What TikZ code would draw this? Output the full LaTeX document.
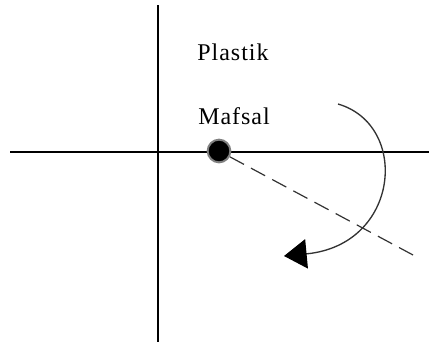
\documentclass[tikz,border=0pt]{standalone}
\usepackage{fontspec}
\setmainfont{Liberation Serif}[LetterSpace=4]
\usetikzlibrary{arrows.meta}
\begin{document}
\begin{tikzpicture}[x=0.75pt,y=-0.75pt,
  axis/.style={draw=black,line width=1pt},
  lbl/.style={font=\fontsize{18}{20}\selectfont,inner sep=0pt}]
\useasboundingbox (0,0) rectangle (429,350);
\coordinate (vt) at (158,5);
\coordinate (vb) at (158,342);
\coordinate (hl) at (10,152);
\coordinate (hr) at (429,152);
\draw[axis] (vt) -- (vb);
\draw[axis] (hl) -- (hr);
\node[lbl] (plastik) at (233,52) {Plastik};
\node[lbl] (mafsal) at (234,116) {Mafsal};
\node[circle,fill=black,draw=gray,line width=1.5pt,minimum size=17pt,inner sep=0pt] (joint) at (219,151) {};
\coordinate (dend) at (413,255);
\draw[line width=0.9pt,dash pattern=on 12pt off 6pt,draw=black!80] (joint) -- (dend);
\coordinate (as) at (338,104);
\coordinate (ae) at (284,256);
\draw[line width=1pt,draw=black!80,-{Triangle[length=17pt,width=22pt,fill=black,color=black]}] (as) .. controls (410,125) and (400,245) .. (ae);
\end{tikzpicture}
\end{document}
